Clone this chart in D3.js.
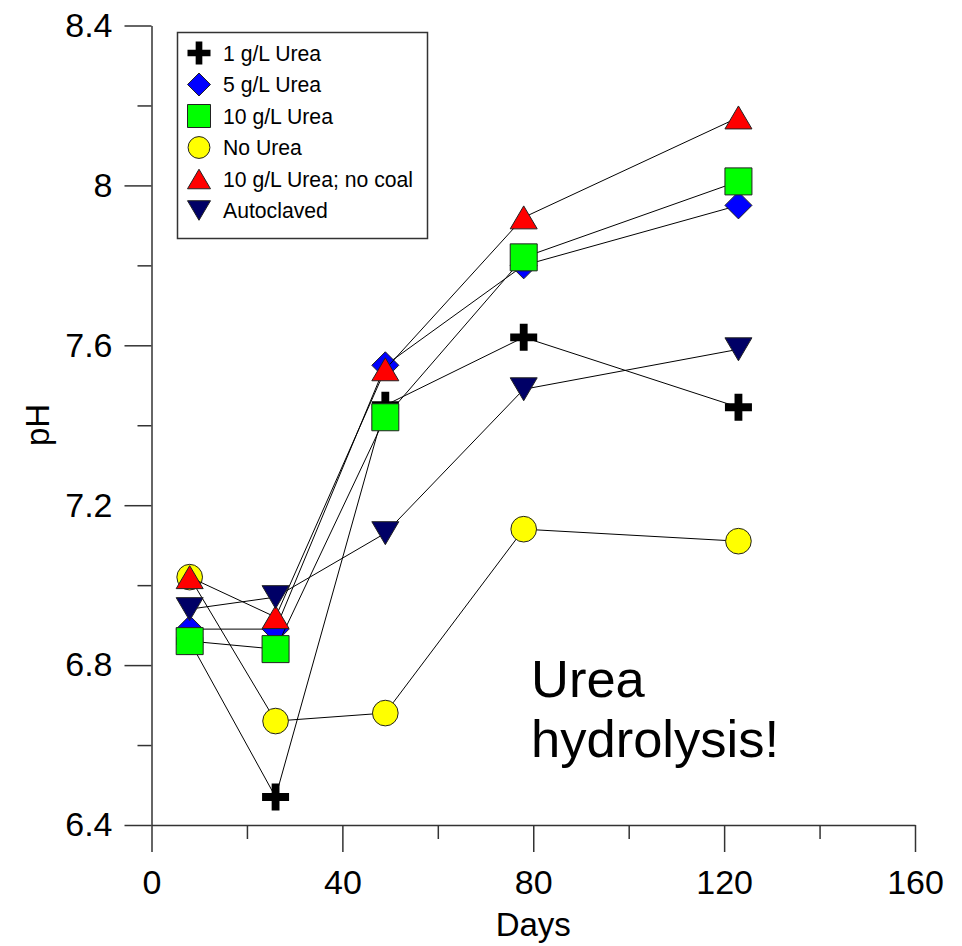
<!DOCTYPE html>
<html>
<head>
<meta charset="utf-8">
<script src="https://cdn.jsdelivr.net/npm/d3@7"></script>
<style>
  body { margin: 0; background: #fff; }
  svg text { font-family: "Liberation Sans", Arial, sans-serif; }
</style>
</head>
<body>
<svg id="chart" width="962" height="946"></svg>
<script>
// Data
const days = [8, 26, 49, 78, 123];
const seriesNames = ['1 g/L Urea', '5 g/L Urea', '10 g/L Urea', 'No Urea', '10 g/L Urea; no coal', 'Autoclaved'];
const urea1 = [6.86, 6.47, 7.45, 7.62, 7.445];
const urea5 = [6.89, 6.89, 7.55, 7.80, 7.95];
const urea10 = [6.86, 6.84, 7.42, 7.82, 8.01];
const noUrea = [7.02, 6.66, 6.68, 7.14, 7.11];
const noCoal = [7.02, 6.92, 7.54, 7.92, 8.17];
const autoclaved = [6.94, 6.97, 7.13, 7.49, 7.59];
const xTicks = [0, 40, 80, 120, 160];
const yTicks = [6.4, 6.8, 7.2, 7.6, 8.0, 8.4];

const width = 962, height = 946;
const margin = { top: 25.5, right: 47, bottom: 121, left: 151.5 };

const shapes = ['plus', 'diamond', 'square', 'circle', 'triangleUp', 'triangleDown'];
const fills = ['#000000', '#0000ff', '#00ff00', '#ffff00', '#ff0000', '#000066'];
const allValues = [urea1, urea5, urea10, noUrea, noCoal, autoclaved];

function shapePath(shape, s) {
    const h = s / 2;
    if (shape === 'plus') {
        const t = s * 0.145;
        return `M${-t},${-h}H${t}V${-t}H${h}V${t}H${t}V${h}H${-t}V${t}H${-h}V${-t}H${-t}Z`;
    }
    if (shape === 'diamond') return `M0,${-h}L${h},0L0,${h}L${-h},0Z`;
    if (shape === 'square') return `M${-h},${-h}H${h}V${h}H${-h}Z`;
    if (shape === 'circle') { const r = h * 0.95; return `M${r},0A${r},${r} 0 1,1 ${-r},0A${r},${r} 0 1,1 ${r},0Z`; }
    const th = s * 0.85 / 2;
    if (shape === 'triangleUp') return `M0,${-th}L${h},${th}L${-h},${th}Z`;
    return `M0,${th}L${h},${-th}L${-h},${-th}Z`;
}

function drawSymbol(g, shape, fill, s) {
    g.append('path')
    .attr('d', shapePath(shape, s))
    .attr('fill', fill)
    .attr('stroke', shape === 'plus' ? 'none' : '#222')
    .attr('stroke-width', 1);
}

function Draw_Chart() {
    const svg = d3.select('#chart');

    const x = d3.scaleLinear()
    .domain([0, 160])
    .range([margin.left, width - margin.right]);

    const y = d3.scaleLinear()
    .domain([6.4, 8.4])
    .range([height - margin.bottom, margin.top]);

    // Minor ticks
    svg.append('g')
    .attr('transform', `translate(${margin.left},0)`)
    .call(d3.axisLeft(y).tickValues([6.6, 7.0, 7.4, 7.8, 8.2]).tickSize(14).tickFormat(''))
    .call(g => g.select('.domain').remove());

    svg.append('g')
    .attr('transform', `translate(0,${height - margin.bottom})`)
    .call(d3.axisBottom(x).tickValues([20, 60, 100, 140]).tickSize(14).tickFormat(''))
    .call(g => g.select('.domain').remove());

    // Y axis
    svg.append('g')
    .attr('transform', `translate(${margin.left},0)`)
    .call(d3.axisLeft(y).tickValues(yTicks).tickSize(27).tickSizeOuter(0).tickPadding(12)
        .tickFormat(d => d === 8 ? '8' : d3.format('.1f')(d)));

    // X axis
    svg.append('g')
    .attr('transform', `translate(0,${height - margin.bottom})`)
    .call(d3.axisBottom(x).tickValues(xTicks).tickSize(27).tickSizeOuter(0).tickPadding(18));

    svg.selectAll('.tick line, .domain')
    .attr('stroke', '#333')
    .attr('stroke-width', 1.5);
    svg.selectAll('.tick text')
    .attr('font-size', 34)
    .attr('fill', '#000');

    // Axis labels
    svg.append('text')
    .attr('x', (x(0) + x(160)) / 2)
    .attr('y', 936)
    .attr('text-anchor', 'middle')
    .attr('font-size', 33)
    .text('Days');

    svg.append('text')
    .attr('transform', 'translate(49,425) rotate(-90)')
    .attr('text-anchor', 'middle')
    .attr('font-size', 33)
    .text('pH');

    // Series
    const line = d3.line()
    .x((d, i) => x(days[i]))
    .y(d => y(d));

    allValues.forEach((vals, k) => {
        svg.append('path')
        .datum(vals)
        .attr('d', line)
        .attr('fill', 'none')
        .attr('stroke', '#000')
        .attr('stroke-width', 1);

        vals.forEach((v, i) => {
            const g = svg.append('g').attr('transform', `translate(${x(days[i])},${y(v)})`);
            drawSymbol(g, shapes[k], fills[k], 27);
        });
    });

    // Legend
    const legend = svg.append('g');
    legend.append('rect')
    .attr('x', 177.5).attr('y', 32.5)
    .attr('width', 250).attr('height', 206)
    .attr('fill', '#fff')
    .attr('stroke', '#333')
    .attr('stroke-width', 1.5);

    seriesNames.forEach((name, k) => {
        const cy = 53 + k * 31.5;
        const g = legend.append('g').attr('transform', `translate(199,${cy})`);
        drawSymbol(g, shapes[k], fills[k], 23);
        legend.append('text')
        .attr('x', 223)
        .attr('y', cy)
        .attr('dy', '0.36em')
        .attr('font-size', 21.2)
        .text(name);
    });

    // Annotation
    const note = svg.append('text')
    .attr('font-size', 52.5)
    .attr('fill', '#000');
    note.append('tspan').attr('x', 531).attr('y', 697).text('Urea');
    note.append('tspan').attr('x', 531).attr('y', 757).text('hydrolysis!');
}

Draw_Chart();
</script>
</body>
</html>
